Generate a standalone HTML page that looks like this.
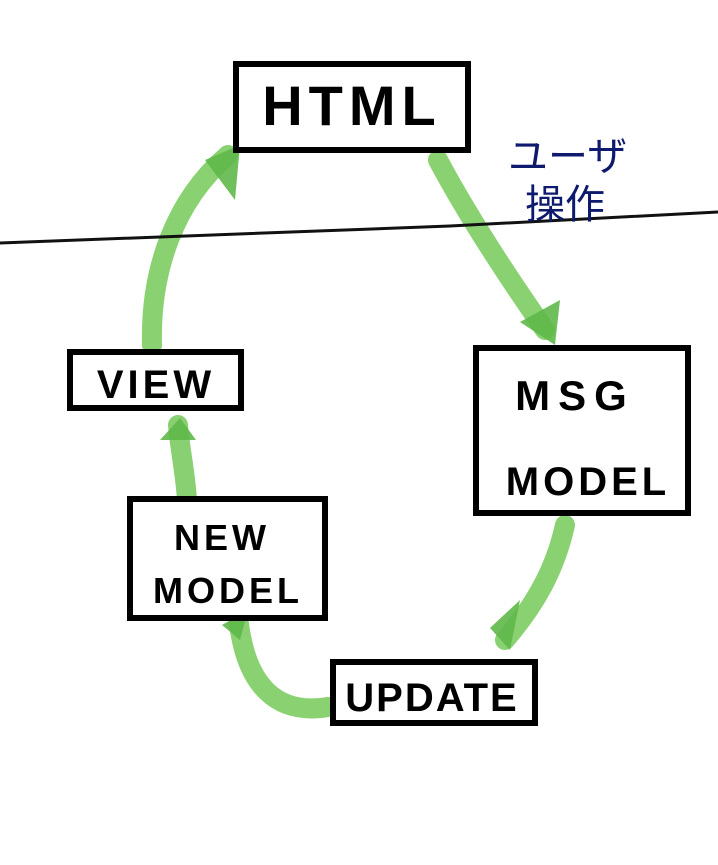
<!DOCTYPE html>
<html><head><meta charset="utf-8"><style>
html,body{margin:0;padding:0;background:#fff;width:718px;height:865px;overflow:hidden}
svg{display:block}
text{font-family:"Liberation Sans","Noto Sans CJK JP",sans-serif}
</style></head><body>
<svg width="718" height="865" viewBox="0 0 718 865" xmlns="http://www.w3.org/2000/svg">
<g fill="none" stroke="#7ccc62" stroke-width="20" stroke-linecap="round" opacity="0.9">
<path d="M438 160 C470 220 510 280 545 330"/>
<path d="M565 525 C555 570 535 605 505 640"/>
<path d="M328 707 C280 715 245 690 238 615"/>
<path d="M187 500 C185 470 180 450 178 425"/>
<path d="M152 345 C150 270 175 200 228 155"/>
</g>
<g fill="#5fb84a" opacity="0.9">
<polygon points="520,322 560,300 555,345"/>
<polygon points="490,628 520,600 510,650"/>
<polygon points="222,625 248,610 240,640"/>
<polygon points="160,440 180,418 196,440"/>
<polygon points="205,160 240,145 235,200"/>
</g>
<path d="M0 243 C150 238 300 232 450 226 C560 220 650 215 718 212" fill="none" stroke="#111" stroke-width="3"/>
<g fill="#fff" stroke="#000" stroke-width="6">
<rect x="236" y="64" width="232" height="86"/>
<rect x="476" y="348" width="212" height="165"/>
<rect x="70" y="352" width="171" height="56"/>
<rect x="130" y="499" width="195" height="119"/>
<rect x="333" y="662" width="202" height="61"/>
</g>
<g fill="#000" font-weight="bold" text-anchor="middle">
<text x="352" y="125" font-size="56" letter-spacing="6">HTML</text>
<text x="575" y="410" font-size="42" letter-spacing="8">MSG</text>
<text x="588" y="495" font-size="40" letter-spacing="4">MODEL</text>
<text x="156" y="398" font-size="40" letter-spacing="4">VIEW</text>
<text x="222" y="550" font-size="36" letter-spacing="4">NEW</text>
<text x="228" y="603" font-size="36" letter-spacing="4">MODEL</text>
<text x="432" y="711" font-size="40" letter-spacing="2">UPDATE</text>
</g>
<g fill="#0d1a6e" font-size="40">
<text x="508" y="170">ユーザ</text>
<text x="525" y="218">操作</text>
</g>
</svg>
</body></html>
